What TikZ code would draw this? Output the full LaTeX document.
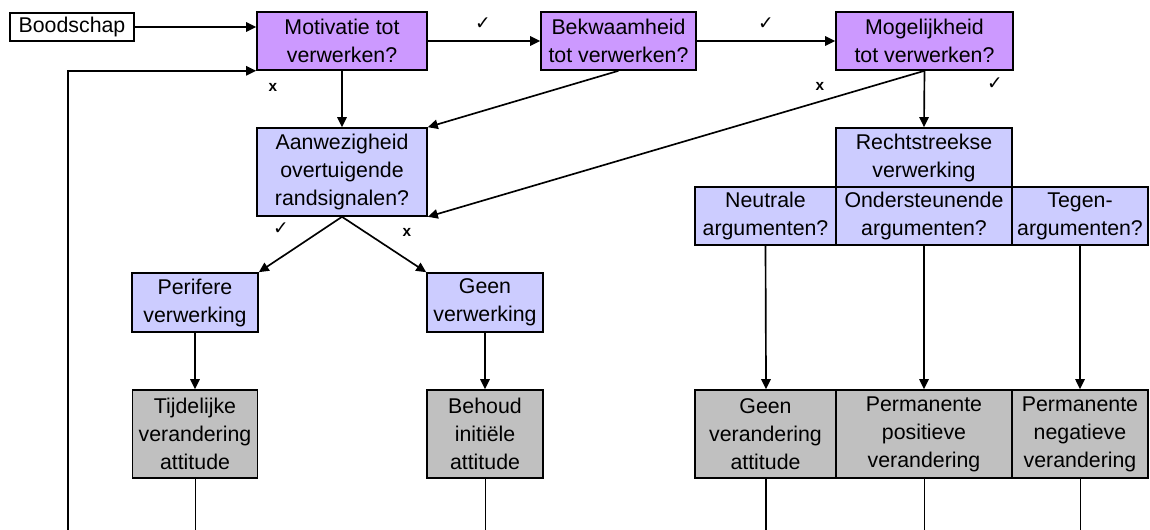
\documentclass[tikz,border=0pt]{standalone}
\usepackage{fontspec}
\setmainfont{Liberation Sans}
\newfontfamily\symfont{DejaVu Sans}
\usetikzlibrary{arrows.meta}
\definecolor{paars}{HTML}{CC99FF}
\definecolor{lichtblauw}{HTML}{CCCCFF}
\definecolor{grijs}{HTML}{C0C0C0}
\tikzset{
  box/.style={draw, line width=1.2pt, inner sep=0pt, align=center, font=\fontsize{16}{21}\selectfont},
  maat/.style 2 args={minimum width=#1*0.75pt, minimum height=#2*0.75pt},
  vraag/.style={box, fill=paars},
  proces/.style={box, fill=lichtblauw},
  uitkomst/.style={box, fill=grijs},
  ja/.style={font=\symfont\fontsize{14}{14}\selectfont},
  nee/.style={font=\bfseries\fontsize{11.5}{11.5}\selectfont},
  pijl/.style={->, line width=1.25pt},
  lijn/.style={line width=1.25pt},
}
\begin{document}
\begin{tikzpicture}[x=0.75pt, y=-0.75pt, >={Triangle[length=7.5pt,width=7pt]}]
    \useasboundingbox (0,0) rectangle (1150,530);
    \coordinate (onder) at (0,530);
    \coordinate (terug) at (68,530);
    % bovenste rij
    \node[box, maat={124}{28}] (bood) at (72,27) {Boodschap};
    \node[vraag, maat={170}{58}] (mot) at (342,41) {Motivatie tot\\verwerken?};
    \node[vraag, maat={155}{58}] (bek) at (618.5,41) {Bekwaamheid\\tot verwerken?};
    \node[vraag, maat={177}{58}] (mog) at (924.5,41) {Mogelijkheid\\tot verwerken?};
    % perifere route
    \node[proces, maat={170}{88}] (aan) at (342,172) {Aanwezigheid\\overtuigende\\randsignalen?};
    \node[proces, maat={126}{59}] (per) at (195,302.5) {Perifere\\verwerking};
    \node[proces, maat={116}{59}] (gvw) at (485,302.5) {Geen\\verwerking};
    \node[uitkomst, maat={125}{88}] (tij) at (195,434) {Tijdelijke\\verandering\\attitude};
    \node[uitkomst, maat={116}{88}] (beh) at (485,434) {Behoud\\initiële\\attitude};
    % centrale route
    \node[proces, maat={176}{59}] (rec) at (924,157.5) {Rechtstreekse\\verwerking};
    \node[proces, maat={141}{58}] (neu) at (765.5,216) {Neutrale\\argumenten?};
    \node[proces, maat={176}{58}] (ond) at (924,216) {Ondersteunende\\argumenten?};
    \node[proces, maat={136}{58}] (teg) at (1080,216) {Tegen-\\argumenten?};
    \node[uitkomst, maat={141}{88}] (gva) at (765.5,434) {Geen\\verandering\\attitude};
    \node[uitkomst, maat={176}{88}] (pos) at (924,434) {Permanente\\positieve\\verandering};
    \node[uitkomst, maat={136}{88}] (neg) at (1080,434) {Permanente\\negatieve\\verandering};
    % ja / nee
    \node[ja] (v1) at (483,24) {✓};
    \node[ja] (v2) at (766,24) {✓};
    \node[ja] (v3) at (995,84) {✓};
    \node[ja] (v4) at (281,229) {✓};
    \node[nee] (x1) at (273,87) {x};
    \node[nee] (x2) at (820,86) {x};
    \node[nee] (x3) at (407,232) {x};
    % pijlen
    \draw[pijl] (bood.east) -- (bood.east -| mot.west);
    \draw[pijl] (mot.east) -- (bek.west);
    \draw[pijl] (bek.east) -- (mog.west);
    \draw[pijl] (terug) |- (mot.south west);
    \draw[pijl] (mot.south) -- (aan.north);
    \draw[pijl] (bek.south) -- (aan.north east);
    \draw[pijl] (mog.south) -- (aan.south east);
    \draw[pijl] (mog.south) -- (rec.north);
    \draw[pijl] (aan.south) -- (per.north east);
    \draw[pijl] (aan.south) -- (gvw.north west);
    \draw[pijl] (per.south) -- (tij.north);
    \draw[pijl] (gvw.south) -- (beh.north);
    \draw[pijl] (neu.south) -- ([xshift=0.4pt]gva.north);
    \draw[pijl] (ond.south) -- (pos.north);
    \draw[pijl] (teg.south) -- (neg.north);
    \foreach \n in {tij,beh,gva,pos,neg}
        \draw[lijn] ([xshift=0.4pt]\n.south) -- ([xshift=0.4pt]\n.south |- onder);
\end{tikzpicture}
\end{document}
